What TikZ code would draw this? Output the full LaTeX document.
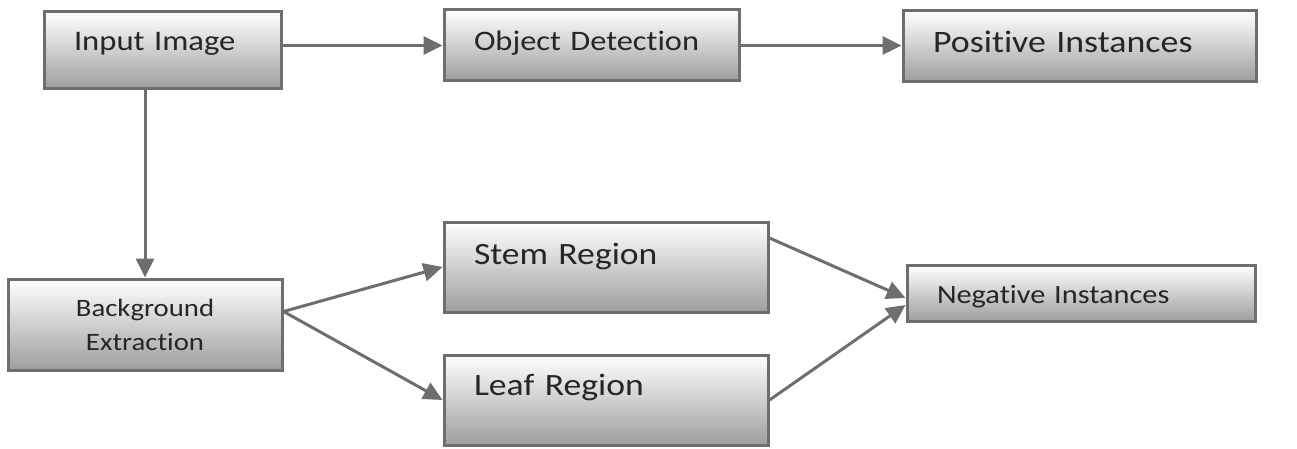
\documentclass[tikz,border=0pt]{standalone}
\usepackage{fontspec}
\setmainfont{Carlito}[FakeStretch=1.15, Ligatures=NoCommon]
\usetikzlibrary{arrows.meta}
\definecolor{edge}{HTML}{6E6E6E}
\definecolor{ink}{HTML}{262626}
\newcommand{\fs}[1]{\fontsize{#1}{34}\selectfont}

\begin{document}
\begin{tikzpicture}[x=1pt, y=-1pt, stage/.style={draw=edge, line width=3pt, top color=white, bottom color=black!38, text=ink, align=left, inner xsep=30pt, inner ysep=0pt}, flow/.style={draw=edge, line width=3pt, -{Triangle[length=19pt, width=18pt]}}]
	\useasboundingbox (0,0) rectangle (1297,449);
	% top row
	\node[stage, text width=177pt, minimum height=77pt, text height=12pt, text depth=12pt, font=\fs{28.4}] (I) at (162.5,50.5) {Input Image};
	\node[stage, text width=235pt, minimum height=71pt, text height=22pt, text depth=12pt, font=\fs{28.2}] (O) at (591.5,45.5) {Object Detection};
	\node[stage, text width=293pt, minimum height=71pt, text height=25pt, text depth=12pt, font=\fs{31.2}] (P) at (1079.5,46.5) {Positive Instances};
	% bottom part
	\node[stage, align=center, text width=214pt, minimum height=91pt, font=\fs{25}] (B) at (145,324.5) {Background\\Extraction};
	\node[stage, text width=264pt, minimum height=90pt, text height=10pt, text depth=16pt, font=\fs{31}] (S) at (606,267) {Stem Region};
	\node[stage, text width=264pt, minimum height=90pt, text height=6pt, text depth=16pt, font=\fs{31}] (L) at (606,400) {Leaf Region};
	\node[stage, text width=288pt, minimum height=56pt, text height=30pt, text depth=10pt, font=\fs{26.4}] (N) at (1081,293) {Negative Instances};
	\draw[flow] (I.east |- O.west) -- (O.west);
	\draw[flow] (O.east) -- (O.east -| P.west);
	\draw[flow] (B |- I.south) -- (B.north);
	\coordinate (fork) at ([yshift=13pt]B.east);
	\draw[flow] (fork) -- (S.west);
	\draw[flow] (fork) -- (L.west);
	\draw[flow] ([yshift=29pt]S.east) -- ([yshift=-5pt]N.west);
	\draw[flow] (L.east) -- ([yshift=-12pt]N.west);
\end{tikzpicture}
\end{document}
